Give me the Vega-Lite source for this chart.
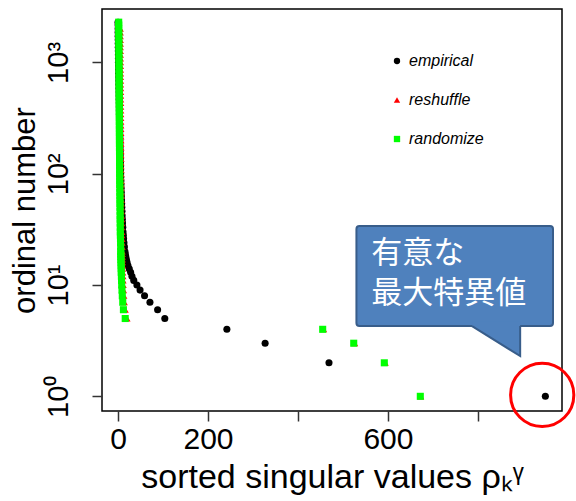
{
  "$schema": "https://vega.github.io/schema/vega-lite/v6.json",
  "autosize": "none",
  "width": 460,
  "height": 402,
  "padding": {"left": 102, "top": 9, "right": 14, "bottom": 90},
  "background": "white",
  "config": {
    "view": {"stroke": "black", "strokeWidth": 1.5},
    "axis": {"grid": false, "domain": false, "labelFont": "Liberation Sans", "titleFont": "Liberation Sans", "labelColor": "black", "titleColor": "black", "tickColor": "#333", "tickWidth": 1.5, "tickSize": 10, "titleFontWeight": "normal"},
    "legend": {"labelFont": "Liberation Sans"}
  },
  "encoding": {
    "x": {"field": "v", "type": "quantitative", "scale": {"domain": [-35.6, 987], "nice": false, "zero": false},
          "axis": {"values": [0, 200, 400, 600, 800], "labelExpr": "datum.value == 400 || datum.value == 800 ? '' : datum.label", "labelFontSize": 30, "labelPadding": 3, "labelFlush": false, "labelOverlap": false,
                   "title": "sorted singular values ρₖᵞ", "titleFontSize": 34, "titlePadding": 6}},
    "y": {"field": "r", "type": "quantitative", "scale": {"type": "log", "domain": [0.738, 3020], "nice": false},
          "axis": {"values": [1, 10, 100, 1000], "labelExpr": "datum.value == 1 ? '10⁰' : datum.value == 10 ? '10¹' : datum.value == 100 ? '10²' : '10³'", "labelFontSize": 29, "labelAngle": 270, "labelAlign": "center", "labelBaseline": "bottom", "labelPadding": 19, "labelFlush": false, "labelOverlap": false,
                   "title": "ordinal number", "titleFontSize": 31, "titlePadding": 3}}
  },
  "layer": [
    {
      "data": {"values": [
        {"s":"empirical","r":1,"v":950},{"s":"empirical","r":2,"v":469},{"s":"empirical","r":3,"v":327},{"s":"empirical","r":4,"v":242},{"s":"empirical","r":5,"v":104},{"s":"empirical","r":6,"v":88},{"s":"empirical","r":7,"v":71},{"s":"empirical","r":8,"v":59},{"s":"empirical","r":9,"v":49},{"s":"empirical","r":10,"v":42},
        {"s":"empirical","r":11,"v":35},{"s":"empirical","r":12,"v":31},{"s":"empirical","r":13,"v":28},{"s":"empirical","r":14,"v":25},{"s":"empirical","r":15,"v":22},{"s":"empirical","r":16,"v":20},{"s":"empirical","r":17,"v":18.5},{"s":"empirical","r":18,"v":17.2},{"s":"empirical","r":19,"v":16.2},{"s":"empirical","r":20,"v":15.4},
        {"s":"empirical","r":22,"v":14.2},{"s":"empirical","r":24,"v":13.2},{"s":"empirical","r":26,"v":12.4},{"s":"empirical","r":28,"v":11.8},{"s":"empirical","r":30,"v":11.2},{"s":"empirical","r":33,"v":10.6},{"s":"empirical","r":36,"v":10.1},{"s":"empirical","r":39,"v":9.6},{"s":"empirical","r":42,"v":9.2},{"s":"empirical","r":46,"v":8.8},
        {"s":"empirical","r":50,"v":8.4},{"s":"empirical","r":54,"v":8.1},{"s":"empirical","r":58,"v":7.8},{"s":"empirical","r":63,"v":7.5},{"s":"empirical","r":68,"v":7.2},{"s":"empirical","r":74,"v":6.9},{"s":"empirical","r":80,"v":6.6},{"s":"empirical","r":86,"v":6.4},{"s":"empirical","r":93,"v":6.1},{"s":"empirical","r":100,"v":5.9},
        {"s":"empirical","r":108,"v":5.7},{"s":"empirical","r":117,"v":5.5},{"s":"empirical","r":126,"v":5.3},{"s":"empirical","r":136,"v":5.1},{"s":"empirical","r":147,"v":4.9},{"s":"empirical","r":159,"v":4.7},{"s":"empirical","r":172,"v":4.5},{"s":"empirical","r":186,"v":4.3},{"s":"empirical","r":200,"v":4.15},{"s":"empirical","r":216,"v":4.0},
        {"s":"empirical","r":233,"v":3.85},{"s":"empirical","r":252,"v":3.7},{"s":"empirical","r":272,"v":3.55},{"s":"empirical","r":294,"v":3.4},{"s":"empirical","r":317,"v":3.25},{"s":"empirical","r":342,"v":3.1},{"s":"empirical","r":370,"v":2.95},{"s":"empirical","r":400,"v":2.8},{"s":"empirical","r":432,"v":2.65},{"s":"empirical","r":466,"v":2.5},
        {"s":"empirical","r":503,"v":2.35},{"s":"empirical","r":543,"v":2.2},{"s":"empirical","r":587,"v":2.05},{"s":"empirical","r":634,"v":1.9},{"s":"empirical","r":684,"v":1.75},{"s":"empirical","r":739,"v":1.6},{"s":"empirical","r":798,"v":1.45},{"s":"empirical","r":862,"v":1.3},{"s":"empirical","r":931,"v":1.15},{"s":"empirical","r":1005,"v":1.0},
        {"s":"empirical","r":1086,"v":0.9},{"s":"empirical","r":1172,"v":0.8},{"s":"empirical","r":1266,"v":0.7},{"s":"empirical","r":1368,"v":0.6},{"s":"empirical","r":1477,"v":0.5},{"s":"empirical","r":1595,"v":0.4},{"s":"empirical","r":1723,"v":0.32},{"s":"empirical","r":1861,"v":0.25},{"s":"empirical","r":2010,"v":0.18},{"s":"empirical","r":2170,"v":0.12},{"s":"empirical","r":2300,"v":0.06},

        {"s":"reshuffle","r":1,"v":673},{"s":"reshuffle","r":2,"v":594},{"s":"reshuffle","r":3,"v":526},{"s":"reshuffle","r":4,"v":457},{"s":"reshuffle","r":5,"v":20},{"s":"reshuffle","r":6,"v":16},{"s":"reshuffle","r":7,"v":14},{"s":"reshuffle","r":8,"v":13},{"s":"reshuffle","r":9,"v":12.2},{"s":"reshuffle","r":10,"v":11.6},
        {"s":"reshuffle","r":11,"v":11.2},{"s":"reshuffle","r":12,"v":10.9},{"s":"reshuffle","r":13,"v":10.6},{"s":"reshuffle","r":14,"v":10.4},{"s":"reshuffle","r":15,"v":10.2},{"s":"reshuffle","r":16,"v":10.0},{"s":"reshuffle","r":17,"v":9.8},{"s":"reshuffle","r":18,"v":9.7},{"s":"reshuffle","r":19,"v":9.6},{"s":"reshuffle","r":20,"v":9.5},
        {"s":"reshuffle","r":22,"v":9.3},{"s":"reshuffle","r":24,"v":9.1},{"s":"reshuffle","r":26,"v":8.9},{"s":"reshuffle","r":28,"v":8.7},{"s":"reshuffle","r":30,"v":8.5},{"s":"reshuffle","r":33,"v":8.4},{"s":"reshuffle","r":36,"v":8.3},{"s":"reshuffle","r":39,"v":8.2},{"s":"reshuffle","r":42,"v":8.1},{"s":"reshuffle","r":46,"v":8.0},
        {"s":"reshuffle","r":50,"v":7.9},{"s":"reshuffle","r":54,"v":7.8},{"s":"reshuffle","r":58,"v":7.7},{"s":"reshuffle","r":63,"v":7.6},{"s":"reshuffle","r":68,"v":7.5},{"s":"reshuffle","r":74,"v":7.4},{"s":"reshuffle","r":80,"v":7.3},{"s":"reshuffle","r":86,"v":7.2},{"s":"reshuffle","r":93,"v":7.1},{"s":"reshuffle","r":100,"v":7.0},
        {"s":"reshuffle","r":108,"v":6.95},{"s":"reshuffle","r":117,"v":6.9},{"s":"reshuffle","r":126,"v":6.85},{"s":"reshuffle","r":136,"v":6.8},{"s":"reshuffle","r":147,"v":6.75},{"s":"reshuffle","r":159,"v":6.7},{"s":"reshuffle","r":172,"v":6.65},{"s":"reshuffle","r":186,"v":6.6},{"s":"reshuffle","r":200,"v":6.55},{"s":"reshuffle","r":216,"v":6.5},
        {"s":"reshuffle","r":233,"v":6.45},{"s":"reshuffle","r":252,"v":6.4},{"s":"reshuffle","r":272,"v":6.35},{"s":"reshuffle","r":294,"v":6.3},{"s":"reshuffle","r":317,"v":6.25},{"s":"reshuffle","r":342,"v":6.2},{"s":"reshuffle","r":370,"v":6.15},{"s":"reshuffle","r":400,"v":6.1},{"s":"reshuffle","r":432,"v":6.05},{"s":"reshuffle","r":466,"v":6.0},
        {"s":"reshuffle","r":503,"v":5.95},{"s":"reshuffle","r":543,"v":5.9},{"s":"reshuffle","r":587,"v":5.85},{"s":"reshuffle","r":634,"v":5.8},{"s":"reshuffle","r":684,"v":5.75},{"s":"reshuffle","r":739,"v":5.7},{"s":"reshuffle","r":798,"v":5.65},{"s":"reshuffle","r":862,"v":5.6},{"s":"reshuffle","r":931,"v":5.55},{"s":"reshuffle","r":1005,"v":5.5},
        {"s":"reshuffle","r":1086,"v":5.45},{"s":"reshuffle","r":1172,"v":5.4},{"s":"reshuffle","r":1266,"v":5.35},{"s":"reshuffle","r":1368,"v":5.3},{"s":"reshuffle","r":1477,"v":5.25},{"s":"reshuffle","r":1595,"v":5.2},{"s":"reshuffle","r":1723,"v":5.15},{"s":"reshuffle","r":1861,"v":5.1},{"s":"reshuffle","r":2010,"v":5.05},

        {"s":"randomize","r":1,"v":672},{"s":"randomize","r":2,"v":592},{"s":"randomize","r":3,"v":524},{"s":"randomize","r":4,"v":455},{"s":"randomize","r":5,"v":16},{"s":"randomize","r":6,"v":12},{"s":"randomize","r":7,"v":10.5},{"s":"randomize","r":8,"v":9.5},{"s":"randomize","r":9,"v":8.8},{"s":"randomize","r":10,"v":8.2},
        {"s":"randomize","r":11,"v":7.8},{"s":"randomize","r":12,"v":7.5},{"s":"randomize","r":13,"v":7.2},{"s":"randomize","r":14,"v":7.0},{"s":"randomize","r":15,"v":6.8},{"s":"randomize","r":16,"v":6.6},{"s":"randomize","r":17,"v":6.4},{"s":"randomize","r":18,"v":6.3},{"s":"randomize","r":19,"v":6.2},{"s":"randomize","r":20,"v":6.1},
        {"s":"randomize","r":22,"v":5.9},{"s":"randomize","r":24,"v":5.7},{"s":"randomize","r":26,"v":5.5},{"s":"randomize","r":28,"v":5.3},{"s":"randomize","r":30,"v":5.1},{"s":"randomize","r":33,"v":5.0},{"s":"randomize","r":36,"v":4.9},{"s":"randomize","r":39,"v":4.8},{"s":"randomize","r":42,"v":4.7},{"s":"randomize","r":46,"v":4.6},
        {"s":"randomize","r":50,"v":4.5},{"s":"randomize","r":54,"v":4.4},{"s":"randomize","r":58,"v":4.3},{"s":"randomize","r":63,"v":4.2},{"s":"randomize","r":68,"v":4.1},{"s":"randomize","r":74,"v":4.0},{"s":"randomize","r":80,"v":3.9},{"s":"randomize","r":86,"v":3.8},{"s":"randomize","r":93,"v":3.7},{"s":"randomize","r":100,"v":3.6},
        {"s":"randomize","r":108,"v":3.55},{"s":"randomize","r":117,"v":3.5},{"s":"randomize","r":126,"v":3.45},{"s":"randomize","r":136,"v":3.4},{"s":"randomize","r":147,"v":3.35},{"s":"randomize","r":159,"v":3.3},{"s":"randomize","r":172,"v":3.25},{"s":"randomize","r":186,"v":3.2},{"s":"randomize","r":200,"v":3.15},{"s":"randomize","r":216,"v":3.1},
        {"s":"randomize","r":233,"v":3.05},{"s":"randomize","r":252,"v":3.0},{"s":"randomize","r":272,"v":2.95},{"s":"randomize","r":294,"v":2.9},{"s":"randomize","r":317,"v":2.85},{"s":"randomize","r":342,"v":2.8},{"s":"randomize","r":370,"v":2.75},{"s":"randomize","r":400,"v":2.7},{"s":"randomize","r":432,"v":2.65},{"s":"randomize","r":466,"v":2.6},
        {"s":"randomize","r":503,"v":2.55},{"s":"randomize","r":543,"v":2.5},{"s":"randomize","r":587,"v":2.45},{"s":"randomize","r":634,"v":2.4},{"s":"randomize","r":684,"v":2.35},{"s":"randomize","r":739,"v":2.3},{"s":"randomize","r":798,"v":2.25},{"s":"randomize","r":862,"v":2.2},{"s":"randomize","r":931,"v":2.15},{"s":"randomize","r":1005,"v":2.1},
        {"s":"randomize","r":1086,"v":2.05},{"s":"randomize","r":1172,"v":2.0},{"s":"randomize","r":1266,"v":1.95},{"s":"randomize","r":1368,"v":1.9},{"s":"randomize","r":1477,"v":1.85},{"s":"randomize","r":1595,"v":1.8},{"s":"randomize","r":1723,"v":1.75},{"s":"randomize","r":1861,"v":1.7},{"s":"randomize","r":2010,"v":1.65},{"s":"randomize","r":2170,"v":1.6},{"s":"randomize","r":2300,"v":1.55}
      ]},
      "mark": {"type": "point", "filled": true, "opacity": 1, "size": 50},
      "encoding": {
        "color": {"field": "s", "type": "nominal", "scale": {"domain": ["empirical", "reshuffle", "randomize"], "range": ["#000000", "#ff0000", "#00ff00"]},
                  "legend": {"orient": "none", "legendX": 287, "legendY": 44, "title": null, "labelFontSize": 16, "labelFontStyle": "italic", "labelOffset": 4, "symbolSize": 40, "rowPadding": 23, "padding": 0}},
        "shape": {"field": "s", "type": "nominal", "scale": {"domain": ["empirical", "reshuffle", "randomize"], "range": ["circle", "triangle-up", "square"]}}
      }
    },
    {
      "data": {"values": [{"v": 530, "v2": 967, "r": 4.28, "r2": 33.9}]},
      "mark": {"type": "rect", "fill": "#4f81bd", "stroke": "#385d8a", "strokeWidth": 2, "cornerRadius": 3},
      "encoding": {
        "x2": {"field": "v2"},
        "y2": {"field": "r2"}
      }
    },
    {
      "data": {"values": [{"v": 787, "r": 4.7, "r2": 4.28}, {"v": 894, "r": 4.7, "r2": 2.3}]},
      "mark": {"type": "area", "fill": "#4f81bd", "opacity": 1},
      "encoding": {
        "y2": {"field": "r2"}
      }
    },
    {
      "data": {"values": [{"v": 787, "r": 4.28, "o": 1}, {"v": 894, "r": 2.3, "o": 2}, {"v": 894, "r": 4.28, "o": 3}]},
      "mark": {"type": "line", "stroke": "#385d8a", "strokeWidth": 2},
      "encoding": {
        "order": {"field": "o", "type": "quantitative"}
      }
    },
    {
      "data": {"values": [{"v": 563, "r": 19.0, "t": "有意な"}, {"v": 563, "r": 8.3, "t": "最大特異値"}]},
      "mark": {"type": "text", "align": "left", "baseline": "middle", "font": "Noto Sans CJK JP", "fontSize": 31, "fill": "white"},
      "encoding": {
        "text": {"field": "t"}
      }
    },
    {
      "data": {"values": [{"v": 943, "r": 1.03}]},
      "mark": {"type": "point", "shape": "circle", "filled": false, "stroke": "#ff0000", "strokeWidth": 3, "size": 4000, "opacity": 1}
    }
  ]
}
